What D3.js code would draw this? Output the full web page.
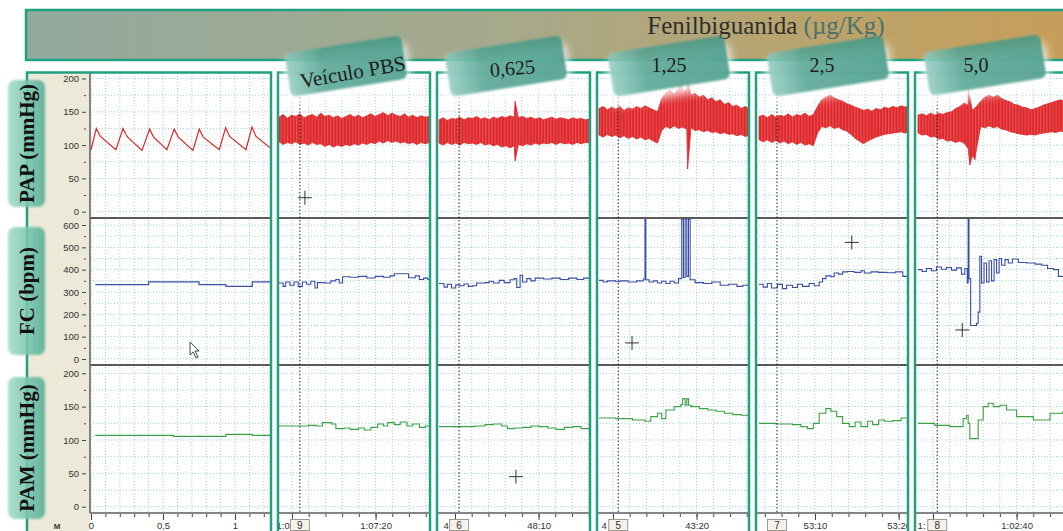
<!DOCTYPE html>
<html>
<head>
<meta charset="utf-8">
<script src="https://cdn.jsdelivr.net/npm/d3@7"></script>
<style>
  body { margin: 0; background: #fff; }
  svg { display: block; }
  .tick text { font-family: "Liberation Sans", Arial, sans-serif; fill: #333; }
</style>
</head>
<body>
<div id="chart"></div>
<script>
// ---------- data ----------
// baseline panel, time in minutes
const basePap = [[0,93],[0.037,125],[0.065,113],[0.173,93],[0.222,125],[0.25,113],[0.354,92],
  [0.407,124],[0.435,112],[0.527,93],[0.578,124],[0.606,112],[0.708,92],[0.752,124],[0.78,112],
  [0.891,93],[0.935,126],[0.963,113],[1.076,93],[1.118,127],[1.146,113],[1.25,95]];
const baseFc = [[0.03,333],[0.40,345],[0.75,333],[0.937,325],[1.12,345],[1.25,345]];
const basePam = [[0.03,107],[0.574,105.5],[0.937,108.5],[1.12,107],[1.25,107]];

// dose panels, time in seconds from the left edge of each panel
const doseNames = ["Veículo PBS", "0,625", "1,25", "2,5", "5,0"];
const startTimes = [4028.45, 2878.09, 2588.33, 3183.30, 3748.21];   // absolute seconds at left edge
const eventOffsets = [2.5, 2.4, 2.3, 2.15, 2.3];
const eventIds = ["9", "6", "5", "7", "8"];

// PAP envelope of the pulsatile trace, one reading every 0.5 s (upper / lower)
const papStep = 0.5;
const pbsPapHi = [142,146,140,145,143,147,141,144,146,142,148,143,145,141,144,140,143,146,142,145,141,144,147,143,146,149,144,148,145,143,147,142,145,141,144,142,143];
const pbsPapLo = [105,101,104,102,105,101,103,100,104,101,102,98,101,97,100,98,101,99,102,100,103,101,104,102,106,103,107,104,106,103,105,102,104,101,104,102,104];
const d1PapHi = [138,141,137,140,139,142,138,141,140,143,139,141,138,142,140,143,141,144,142,141,143,140,142,139,141,138,140,142,139,141,140,138,141,139,140,138,139];
const d1PapLo = [103,100,104,101,103,100,104,102,103,101,104,100,102,99,101,97,99,96,99,101,99,102,100,103,101,103,102,104,101,104,102,103,101,104,102,104,103];
const d2PapHi = [155,158,153,157,154,158,152,156,154,158,155,159,156,153,150,170,178,183,176,185,180,184,175,178,172,175,168,171,165,168,161,164,158,160,155,158,154];
const d2PapLo = [115,112,116,113,115,111,114,110,113,109,112,108,110,106,103,122,128,125,129,125,127,124,126,122,123,120,122,119,120,117,119,116,117,114,116,113,115];
const d3PapHi = [143,145,141,146,142,145,143,147,142,146,144,148,143,146,158,168,172,175,171,168,166,162,160,157,155,152,154,151,155,153,157,155,158,156,159,157,160];
const d3PapLo = [108,105,108,104,107,103,106,102,105,101,104,100,102,99,118,128,126,129,125,127,123,121,116,110,106,102,106,109,112,114,116,117,118,119,120,118,121];
const d4PapHi = [145,147,144,148,145,148,146,149,150,155,158,163,160,152,158,166,172,175,172,175,170,167,165,161,160,157,156,153,155,157,160,162,164,166,168,166,169];
const d4PapLo = [118,115,116,112,113,109,110,106,107,104,106,103,95,85,95,128,126,129,126,128,124,123,120,119,117,116,115,116,115,117,118,119,120,119,121,120,121];
// isolated spikes on the PAP trace: [time, value]
const d1SpikesHi = [[9.1,166]], d1SpikesLo = [[9.1,76]];
const d2SpikesHi = [[9.9,205],[10.6,205]], d2SpikesLo = [[10.6,64]];
const d4SpikesHi = [[6.0,185]], d4SpikesLo = [[6.2,70],[6.8,78]];

// FC (step trace)
const pbsFc = [[0,340],[0.5,325],[0.8,345],[1.3,330],[1.8,345],[2.3,325],[2.8,345],[3.3,335],[3.8,348],[4.3,318],[4.6,342],[5.5,340],[6.2,350],[6.8,356],[7.2,340],[7.6,368],[8.5,366],[9.5,370],[10.5,363],[11.5,370],[12.5,366],[13.3,372],[13.8,382],[15.5,364],[16.3,372],[16.8,356],[17.3,362],[17.8,356],[18.2,356]];
const d1Fc = [[0,338],[0.6,322],[1.0,335],[1.5,318],[2.0,332],[2.5,328],[3.0,336],[3.5,325],[4.0,328],[4.5,340],[5.5,342],[6.0,348],[6.5,340],[7.2,352],[7.8,342],[8.5,355],[9.0,360],[9.3,320],[9.7,375],[10.0,345],[10.5,360],[11.0,350],[11.5,362],[12.5,358],[13.5,362],[14.5,356],[15.5,362],[16.5,356],[17.3,362],[18.2,358]];
const d2Fc = [[0,352],[0.5,345],[1.0,350],[2,346],[2.5,350],[3.5,345],[4.5,350],[5.3,358],[5.5,625],[5.6,355],[6.0,345],[6.5,350],[7.0,340],[7.5,348],[8,338],[8.5,348],[9.0,340],[9.5,360],[9.9,625],[10.1,365],[10.3,625],[10.5,370],[10.7,625],[10.9,355],[11.5,342],[12.5,338],[13.5,345],[14.5,330],[15.5,335],[16.5,325],[17.2,330],[18.2,325]];
const d3Fc = [[0,335],[0.5,322],[1.0,338],[1.5,318],[2.2,334],[2.8,315],[3.3,330],[4.0,320],[4.6,335],[5.2,325],[6.0,338],[6.6,328],[7.2,345],[7.6,360],[8.0,372],[8.6,368],[9.0,385],[9.5,380],[10.0,390],[10.6,392],[11.4,388],[12.2,395],[12.6,385],[13.4,390],[14.3,388],[15.3,386],[16.3,390],[17.2,370],[18.2,368]];
const d4Fc = [[0,400],[0.5,392],[1.0,405],[1.6,395],[2.2,412],[2.8,402],[3.4,410],[4.0,398],[4.6,408],[5.2,380],[5.6,405],[5.9,340],[6.0,625],[6.1,360],[6.3,150],[7.0,160],[7.2,210],[7.4,460],[7.6,340],[7.9,430],[8.2,345],[8.5,440],[8.8,350],[9.1,445],[9.4,385],[9.7,450],[10.0,420],[10.4,445],[10.8,430],[11.3,448],[12,432],[13,430],[14,425],[14.8,420],[15.5,405],[16.2,400],[16.8,370],[17.5,345],[18.5,345]];

// PAM (mean pressure)
const pbsPam = [[0,121],[2,121],[3.5,122],[4.5,121],[5.2,126],[6.3,124],[6.8,117],[7.8,118],[8.5,116],[9.5,118],[10.2,115],[11,119],[11.8,124],[12.5,121],[13.0,126],[13.8,123],[14.5,127],[15.3,121],[16.0,124],[16.8,119],[17.5,121],[18.2,121]];
const d1Pam = [[0,120],[3,120],[4.3,121],[5.5,123],[6.5,124],[7.5,121],[8.2,117],[9,118],[10,119],[11,121],[12,120],[13,118],[14,116],[15,119],[16,120],[17,117],[18.2,118]];
const d2Pam = [[0,133],[2,132],[4,130],[5.5,128],[6.2,135],[7.0,140],[7.5,132],[8.0,145],[9.0,150],[9.8,153],[10.0,162],[10.3,152],[10.5,162],[10.7,152],[11.0,150],[12,147],[13,145],[14,143],[15,140],[16,138],[17,137],[18.2,136]];
const d3Pam = [[0,125],[2,124],[4,123],[5,120],[5.8,117],[6.5,125],[7.2,140],[8.0,147],[8.6,143],[9.3,135],[10.0,125],[10.8,120],[11.5,127],[12.2,120],[13,128],[13.6,123],[14.3,130],[15,128],[16,129],[17,133],[18.2,135]];
const d4Pam = [[0,125],[2.0,122],[3.8,120],[5.4,132],[5.8,137],[6.0,125],[6.2,102],[7.0,102],[7.2,130],[7.8,150],[8.4,155],[9.0,150],[9.8,152],[10.6,145],[11.8,135],[13.8,130],[15.8,140],[17.3,142],[18.5,142]];

// cursor crosses left in the screenshot: [panel, row, time, value]
const crosses = [[1,0,3.1,21],[2,2,9.2,45],[3,1,3.95,72],[4,1,11.1,522],[5,1,5.3,130]];

// ---------- layout ----------
const W = 1063, H = 531;
const rowTop = [73, 218, 365];
const yPap = d3.scaleLinear().domain([0, 200]).range([211.7, 78.5]);
const yFc  = d3.scaleLinear().domain([0, 600]).range([359, 225]);
const yPam = d3.scaleLinear().domain([0, 200]).range([506.7, 373.3]);
const yScales = [yPap, yFc, yPam];
const yStep = [25, 50, 25], yMax = [200, 600, 200];

const RED = "#df2629", BLUE = "#3a4ea3", GREEN = "#3f9f47", FRAME = "#20a080";
const bordersL = [278, 437, 597, 756, 915], bordersR = [430, 590, 749, 908, 1075];
const plotLeft = [279, 439, 599, 759, 918];
const pxPerSec = 8.36;
const FONT = "'Liberation Sans', Arial, sans-serif", SERIF = "'Liberation Serif', 'Times New Roman', serif";

const svg = d3.select("#chart").append("svg").attr("width", W).attr("height", H);
const defs = svg.append("defs");
svg.append("rect").attr("width", W).attr("height", H).attr("fill", "#fff");

// gradients and filters
const bGrad = defs.append("linearGradient").attr("id", "bannerGrad");
[[0, "#92aa9f"], [0.45, "#a6a98a"], [0.75, "#bba36b"], [1, "#c79d59"]].forEach(s =>
  bGrad.append("stop").attr("offset", s[0]).attr("stop-color", s[1]));
const tGrad = defs.append("linearGradient").attr("id", "tagGrad");
[[0, "#8ccabd"], [0.3, "#4a9f8d"], [1, "#3c9583"]].forEach(s =>
  tGrad.append("stop").attr("offset", s[0]).attr("stop-color", s[1]));
const lGrad = defs.append("linearGradient").attr("id", "labGrad");
[[0, "#a4dbcb"], [0.5, "#7cc6b0"], [1, "#55ad94"]].forEach(s =>
  lGrad.append("stop").attr("offset", s[0]).attr("stop-color", s[1]));
defs.append("filter").attr("id", "soft").attr("x", "-20%").attr("y", "-20%").attr("width", "140%").attr("height", "140%")
  .append("feGaussianBlur").attr("stdDeviation", 1.2);
defs.append("filter").attr("id", "glow").attr("x", "-30%").attr("y", "-50%").attr("width", "160%").attr("height", "200%")
  .append("feGaussianBlur").attr("stdDeviation", 5);
const stripes = defs.append("pattern").attr("id", "stripes").attr("width", 3.1).attr("height", 10)
  .attr("patternUnits", "userSpaceOnUse");
stripes.append("rect").attr("width", 3.1).attr("height", 10).attr("fill", RED);
stripes.append("rect").attr("x", 2).attr("width", 0.5).attr("height", 10).attr("fill", "#ef8c8c");

// banner
svg.append("rect").attr("x", 26).attr("y", 10).attr("width", 1060).attr("height", 50)
  .attr("fill", "url(#bannerGrad)").attr("stroke", FRAME).attr("stroke-width", 2.5);
const title = svg.append("text").attr("x", 766).attr("y", 34).attr("text-anchor", "middle")
  .style("font-family", SERIF).style("font-size", "25px").attr("fill", "#2e2e2a");
title.append("tspan").text("Fenilbiguanida ");
title.append("tspan").attr("fill", "#4b716a").text("(µg/Kg)");

// beige axis strip
svg.append("rect").attr("x", 28).attr("y", 73).attr("width", 62).attr("height", 460).attr("fill", "#ece9d8");

// ---------- helpers ----------
function styleAxis(g) {
  g.select(".domain").remove();
  g.selectAll(".tick line").attr("stroke", "#444");
}

function drawFrame(g, x, xl, xr, vLines) {
  rowTop.forEach((top, r) => {
    const ys = d3.range(0, yMax[r] + 1, yStep[r]).map(v => yScales[r](v));
    g.selectAll(null).data(ys).join("line")
      .attr("x1", xl).attr("x2", xr).attr("y1", d => d).attr("y2", d => d)
      .attr("stroke", "#9fd2d9").attr("stroke-dasharray", "1,2");
  });
  g.selectAll(null).data(vLines).join("line")
    .attr("x1", d => x(d)).attr("x2", d => x(d)).attr("y1", 73).attr("y2", 513)
    .attr("stroke", "#9fd2d9").attr("stroke-dasharray", "1,2");
}

function drawSeparators(g, xl, xr) {
  [218, 365].forEach(y => g.append("line").attr("x1", xl).attr("x2", xr).attr("y1", y).attr("y2", y)
    .attr("stroke", "#595959").attr("stroke-width", 2));
  g.append("line").attr("x1", xl).attr("x2", xr).attr("y1", 513).attr("y2", 513)
    .attr("stroke", "#858585").attr("stroke-width", 2);
}

const step = (x, y) => d3.line().x(d => x(d[0])).y(d => y(d[1])).curve(d3.curveStepAfter);
const plain = (x, y) => d3.line().x(d => x(d[0])).y(d => y(d[1]));
const withTimes = (vals, spikes) => vals.map((v, k) => [k * papStep, v]).concat(spikes)
  .sort((a, b) => a[0] - b[0]);

// ---------- baseline panel ----------
const x0 = d3.scaleLinear().domain([0, 1.25]).range([91, 271]);
defs.append("clipPath").attr("id", "clip0").append("rect").attr("x", 27).attr("y", 72).attr("width", 244).attr("height", 470);
const p0 = svg.append("g").attr("clip-path", "url(#clip0)");
drawFrame(p0, x0, 90, 271, d3.range(0, 1.25, 0.1));
drawSeparators(p0, 90, 271);
p0.append("line").attr("x1", 90).attr("x2", 90).attr("y1", 73).attr("y2", 513).attr("stroke", "#5e5e5e").attr("stroke-width", 1.5);
p0.append("path").datum(basePap).attr("d", plain(x0, yPap)).attr("fill", "none").attr("stroke", RED).attr("stroke-width", 1.2);
p0.append("path").datum(baseFc).attr("d", step(x0, yFc)).attr("fill", "none").attr("stroke", BLUE).attr("stroke-width", 1.2);
p0.append("path").datum(basePam).attr("d", step(x0, yPam)).attr("fill", "none").attr("stroke", GREEN).attr("stroke-width", 1.2);

// y axes
yScales.forEach((ys, r) => {
  const major = d3.range(0, yMax[r] + 1, yStep[r] * 2);
  const minor = d3.range(yStep[r], yMax[r], yStep[r] * 2);
  const gm = svg.append("g").attr("transform", "translate(86,0)")
    .call(d3.axisLeft(ys).tickValues(major).tickSize(4).tickPadding(3).tickFormat(d3.format("d")));
  gm.selectAll("text").style("font-size", "9.5px");
  styleAxis(gm);
  const gn = svg.append("g").attr("transform", "translate(86,0)")
    .call(d3.axisLeft(ys).tickValues(minor).tickSize(2).tickFormat(""));
  styleAxis(gn);
});
// baseline x axis
const gx0m = p0.append("g").attr("transform", "translate(0,514)")
  .call(d3.axisBottom(x0).tickValues([0, 0.5, 1]).tickSize(6).tickPadding(2).tickFormat(d => String(d).replace(".", ",")));
gx0m.selectAll("text").style("font-size", "9.5px");
styleAxis(gx0m);
const gx0n = p0.append("g").attr("transform", "translate(0,514)")
  .call(d3.axisBottom(x0).tickValues(d3.range(0.1, 1.25, 0.1)).tickSize(3).tickFormat(""));
styleAxis(gx0n);

// ---------- dose panels ----------
const papHi = [withTimes(pbsPapHi, []), withTimes(d1PapHi, d1SpikesHi), withTimes(d2PapHi, d2SpikesHi),
               withTimes(d3PapHi, []), withTimes(d4PapHi, d4SpikesHi)];
const papLo = [withTimes(pbsPapLo, []), withTimes(d1PapLo, d1SpikesLo), withTimes(d2PapLo, d2SpikesLo),
               withTimes(d3PapLo, []), withTimes(d4PapLo, d4SpikesLo)];
const fcSeries = [pbsFc, d1Fc, d2Fc, d3Fc, d4Fc];
const pamSeries = [pbsPam, d1Pam, d2Pam, d3Pam, d4Pam];
const pad2 = n => String(n).padStart(2, "0");
const fmtTime = k => {
  const h = Math.floor(k / 3600), m = Math.floor((k % 3600) / 60), s = k % 60;
  return h > 0 ? `${h}:${pad2(m)}:${pad2(s)}` : `${m}:${pad2(s)}`;
};
const xPanels = [];

doseNames.forEach((name, i) => {
  const bl = bordersL[i], br = bordersR[i];
  const x = d3.scaleLinear().domain([0, 18]).range([plotLeft[i], plotLeft[i] + 18 * pxPerSec]);
  xPanels.push(x);
  defs.append("clipPath").attr("id", "clip" + (i + 1)).append("rect")
    .attr("x", bl).attr("y", 72).attr("width", br - bl).attr("height", 470);
  const g = svg.append("g").attr("clip-path", `url(#clip${i + 1})`);

  const t0 = startTimes[i];
  const abs = d3.range(Math.ceil(t0 / 2) * 2, t0 + 19, 2);
  const offs = abs.map(k => k - t0);
  drawFrame(g, x, bl, br, offs);

  // PAP band
  const band = papHi[i].concat(papLo[i].slice().reverse());
  g.append("path").datum(band).attr("d", plain(x, yPap)(band) + "Z")
    .attr("fill", "url(#stripes)").attr("stroke", RED).attr("stroke-width", 0.8);
  g.append("path").datum(fcSeries[i]).attr("d", step(x, yFc)).attr("fill", "none").attr("stroke", BLUE).attr("stroke-width", 1.1);
  g.append("path").datum(pamSeries[i]).attr("d", step(x, yPam)).attr("fill", "none").attr("stroke", GREEN).attr("stroke-width", 1.1);

  drawSeparators(g, bl, br);

  // event marker
  const ex = x(eventOffsets[i]);
  g.append("line").attr("x1", ex).attr("x2", ex).attr("y1", 73).attr("y2", 513)
    .attr("stroke", "#222").attr("stroke-dasharray", "1.5,2");

  // x axis
  const majors = abs.filter(k => k % 10 === 0);
  const gm = g.append("g").attr("transform", "translate(0,514)")
    .call(d3.axisBottom(x).tickValues(majors.map(k => k - t0)).tickSize(6).tickPadding(2)
      .tickFormat(o => fmtTime(Math.round(o + t0))));
  gm.selectAll("text").style("font-size", "9.5px");
  styleAxis(gm);
  // labels partly hidden behind the event box keep only their visible start
  gm.selectAll(".tick").each(function (o) {
    const tx = x(o), t = d3.select(this).select("text"), node = t.node();
    const len = node.getComputedTextLength(), left = tx - len / 2;
    if (left + len > ex - 10 && left < ex + 10) {
      const full = t.text();
      let n = 0;
      while (n < full.length && left + node.getSubStringLength(0, n + 1) < ex - 10) n++;
      t.text(full.slice(0, n)).attr("text-anchor", "start").attr("x", left - tx);
    }
  });
  const gn = g.append("g").attr("transform", "translate(0,514)")
    .call(d3.axisBottom(x).tickValues(offs).tickSize(3).tickFormat(""));
  styleAxis(gn);

  g.append("rect").attr("x", ex - 9.5).attr("y", 519.5).attr("width", 19).attr("height", 11)
    .attr("fill", "#f4f2eb").attr("stroke", "#9c9a8f");
  g.append("text").attr("x", ex).attr("y", 529).attr("text-anchor", "middle")
    .style("font-family", FONT).style("font-size", "10px").attr("fill", "#333")
    .text(eventIds[i]);
});

// panel frames
svg.append("rect").attr("x", 27).attr("y", 72.5).attr("width", 244).attr("height", 480)
  .attr("fill", "none").attr("stroke", FRAME).attr("stroke-width", 2.5);
bordersL.forEach((bl, i) => svg.append("rect").attr("x", bl).attr("y", 72.5).attr("width", bordersR[i] - bl).attr("height", 480)
  .attr("fill", "none").attr("stroke", FRAME).attr("stroke-width", 2.5));

// cursor crosses and pointer
const crossAt = (px, py) => svg.append("path").attr("d", `M${px - 7},${py}H${px + 7}M${px},${py - 7}V${py + 7}`)
  .attr("stroke", "#333").attr("stroke-width", 1);
crosses.forEach(c => {
  const xs = xPanels[c[0] - 1];
  crossAt(xs(c[2]), yScales[c[1]](c[3]));
});
const ptr = [x0(0.688), yFc(76)];
svg.append("path").attr("transform", `translate(${ptr[0]},${ptr[1]})`)
  .attr("d", "M0,0V13L3,10L6,16L8,15L5,9H9Z").attr("fill", "#fff").attr("stroke", "#333").attr("stroke-width", 0.9);

// ---------- dose tags ----------
const tags = [
  { cx: 346, cy: 66, tx: 354, ty: 79, rot: -10, size: 21 },
  { cx: 506, cy: 66, tx: 513, ty: 75, rot: -5, size: 20 },
  { cx: 669, cy: 66, tx: 669, ty: 72, rot: 0, size: 20 },
  { cx: 828, cy: 66, tx: 822, ty: 72, rot: 0, size: 20 },
  { cx: 985, cy: 65, tx: 976, ty: 72, rot: 0, size: 20 }
];
tags.forEach((t, i) => {
  const g = svg.append("g").attr("transform", `translate(${t.cx},${t.cy}) rotate(-9)`);
  g.append("rect").attr("x", -62).attr("y", -14).attr("width", 124).attr("height", 44).attr("rx", 6)
    .attr("fill", "#fff").attr("opacity", 0.85).attr("filter", "url(#glow)");
  g.append("rect").attr("x", -59).attr("y", -22).attr("width", 118).attr("height", 44).attr("rx", 6)
    .attr("fill", "url(#tagGrad)").attr("opacity", 0.82).attr("filter", "url(#soft)");
  svg.append("text").attr("transform", `translate(${t.tx},${t.ty}) rotate(${t.rot})`).attr("text-anchor", "middle")
    .style("font-family", SERIF).style("font-size", t.size + "px").attr("fill", "#1d1d1b")
    .text(doseNames[i]);
});

// ---------- row labels ----------
const rowLabels = ["PAP (mmHg)", "FC (bpm)", "PAM (mmHg)"];
const unitLabels = ["mmHg", "bpm", "mmHg"];
const labBoxes = [[80, 207], [227, 355], [377, 519]];
const unitY = [133, 287, 433];
rowLabels.forEach((lab, r) => {
  svg.append("text").attr("transform", `translate(36,${unitY[r]}) rotate(-90)`).attr("text-anchor", "middle")
    .style("font-family", FONT).style("font-size", "9px").attr("fill", "#9a9a9a")
    .text(unitLabels[r]);
  const [y1, y2] = labBoxes[r];
  svg.append("rect").attr("x", 8).attr("y", y1).attr("width", 37).attr("height", y2 - y1).attr("rx", 7)
    .attr("fill", "url(#labGrad)").attr("opacity", 0.88).attr("filter", "url(#soft)");
  svg.append("text").attr("transform", `translate(27,${(y1 + y2) / 2}) rotate(-90)`).attr("text-anchor", "middle")
    .attr("dominant-baseline", "central")
    .style("font-family", SERIF).style("font-size", "21px")
    .style("font-weight", "bold").attr("fill", "#111").text(lab);
});
svg.append("text").attr("x", 57).attr("y", 529).attr("text-anchor", "middle")
  .style("font-family", FONT).style("font-size", "8px").style("font-weight", "bold")
  .attr("fill", "#333").text("M");
</script>
</body>
</html>
